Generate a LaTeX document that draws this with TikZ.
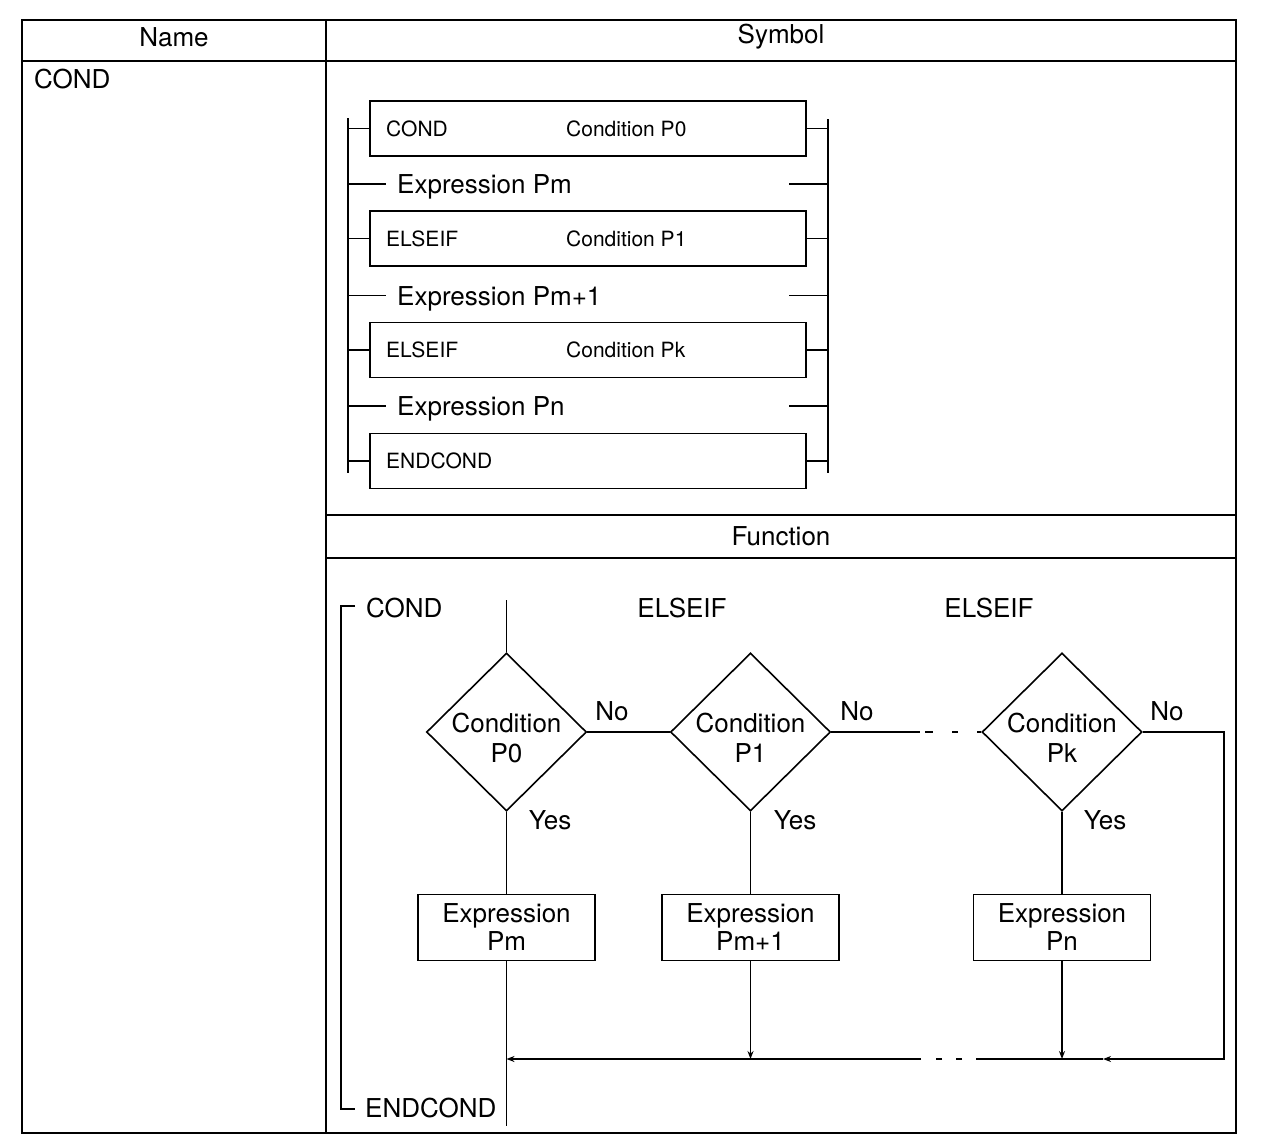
\documentclass[tikz,border=0pt]{standalone}
\usepackage{fontspec}
\setmainfont{TeX Gyre Heros}
\usetikzlibrary{shapes.geometric,arrows.meta}
\begin{document}
\begin{tikzpicture}[x=1pt,y=-1pt,
  tbl/.style={line width=2pt},
  ln/.style={line width=1.6pt},
  big/.style={font=\fontsize{26}{28}\selectfont, inner sep=0pt},
  sml/.style={font=\fontsize{21}{24}\selectfont, inner sep=0pt},
  sbox/.style={draw, line width=1.6pt, minimum width=436pt, minimum height=55pt, inner sep=0pt},
  cond/.style={draw, diamond, line width=1.6pt, minimum width=160pt, minimum height=158pt, inner sep=0pt},
  ebox/.style={draw, line width=1.6pt, minimum width=177pt, minimum height=66pt, inner sep=0pt, align=center, font=\fontsize{26}{28}\selectfont},
  arr/.style={ln, -{Stealth[length=8pt,width=6pt]}},
  dtxt/.style={align=center, font=\fontsize{26}{30}\selectfont, inner sep=0pt}
]
\useasboundingbox (0,0) rectangle (1264,1148);
\fill[white] (0,0) rectangle (1264,1148);

% table
\draw[tbl] (22,20) rectangle (1236,1133);
\draw[tbl] (22,61) -- (1236,61);
\draw[tbl] (326,20) -- (326,1133);
\draw[tbl] (326,515) -- (1236,515);
\draw[tbl] (326,558) -- (1236,558);
\node[big] (hname) at (174,37) {Name};
\node[big] (hsym) at (781,37) {Symbol};
\node[big] (hfun) at (781,536) {Function};
\node[big,anchor=base west] (nm) at (34,88.5) {COND};

% symbol section
\coordinate (lrT) at (348,118); \coordinate (lrB) at (348,473);
\coordinate (rrT) at (828,119); \coordinate (rrB) at (828,473);
\draw[ln] (lrT) -- (lrB);
\draw[ln] (rrT) -- (rrB);
\node[sbox] (b0) at (588,128.5) {};
\node[sbox] (b1) at (588,238.5) {};
\node[sbox] (b2) at (588,350) {};
\node[sbox] (b3) at (588,461) {};
\foreach \b in {b0,b1,b2,b3} {
  \draw[ln] (lrT |- \b.west) -- (\b.west);
  \draw[ln] (\b.east) -- (rrT |- \b.east);
}
\node[sml,anchor=base west] (l0) at (386,136) {COND};
\node[sml,anchor=base west] (c0) at (566,136) {Condition P0};
\node[sml,anchor=base west] (l1) at (386,246) {ELSEIF};
\node[sml,anchor=base west] (c1) at (566,246) {Condition P1};
\node[sml,anchor=base west] (l2) at (386,357.5) {ELSEIF};
\node[sml,anchor=base west] (c2) at (566,357.5) {Condition Pk};
\node[sml,anchor=base west] (l3) at (386,468.5) {ENDCOND};

\node[big,anchor=base west] (e0) at (397,193.5) {Expression Pm};
\node[big,anchor=base west] (e1) at (397,305) {Expression Pm+1};
\node[big,anchor=base west] (e2) at (397,415.5) {Expression Pn};
\coordinate (e0L) at (386,184);   \coordinate (e0R) at (789,184);
\coordinate (e1L) at (386,295.5); \coordinate (e1R) at (789,295.5);
\coordinate (e2L) at (386,406);   \coordinate (e2R) at (789,406);
\foreach \e in {e0,e1,e2} {
  \draw[ln] (lrT |- \e L) -- (\e L);
  \draw[ln] (\e R) -- (rrT |- \e R);
}

% function section
\coordinate (brT) at (355,606); \coordinate (brB) at (355,1109);
\draw[ln] (brT) -- (341,606) -- (341,1109) -- (brB);
\node[big,anchor=base west] (fcond) at (366,617) {COND};
\node[big,anchor=base west] (fend) at (365,1117) {ENDCOND};
\node[big,anchor=base] (else1) at (682,617) {ELSEIF};
\node[big,anchor=base] (else2) at (989,617) {ELSEIF};

\node[cond] (d0) at (506.5,732) {};
\node[cond] (d1) at (750.5,732) {};
\node[cond] (dk) at (1062,732) {};
\node[dtxt] (t0) at (506.5,737.6) {Condition\\P0};
\node[dtxt] (t1) at (750.5,737.6) {Condition\\P1};
\node[dtxt] (tk) at (1062,737.6) {Condition\\Pk};

\node[ebox] (x0) at (506.5,927.5) {Expression\\Pm};
\node[ebox] (x1) at (750.5,927.5) {Expression\\Pm+1};
\node[ebox] (xk) at (1062,927.5) {Expression\\Pn};

\node[big,anchor=base] (no0) at (612,720.5) {No};
\node[big,anchor=base] (no1) at (857,720.5) {No};
\node[big,anchor=base] (nok) at (1167,720.5) {No};
\node[big,anchor=base] (y0) at (550,829.5) {Yes};
\node[big,anchor=base] (y1) at (795,829.5) {Yes};
\node[big,anchor=base] (yk) at (1105,829.5) {Yes};

\coordinate (entry) at (506.5,600);
\draw[ln] (entry) -- (d0.north);
\draw[ln] (d0.east) -- (d1.west);
\coordinate (dsA) at (920,732);
\draw[ln] (d1.east) -- (dsA);
\draw[ln, dash pattern=on 0pt off 5pt on 8pt off 19pt on 6pt off 19pt on 10pt] (dsA) -- (dk.west);

\draw[ln] (d0.south) -- (x0.north);
\draw[ln] (d1.south) -- (x1.north);
\draw[ln] (dk.south) -- (xk.north);

\coordinate (rt) at (1224,732);
\coordinate (rb) at (1224,1059);
\coordinate (mid) at (1103,1059);
\coordinate (gR) at (976,1059);
\coordinate (gL) at (921,1059);
\coordinate (join) at (506.5,1059);
\coordinate (exit) at (506.5,1126);
\draw[arr] (dk.east) -- (rt) -- (rb) -- (mid);
\draw[ln] (mid) -- (gR);
\draw[ln, dash pattern=on 0pt off 14pt on 6pt off 14pt on 6pt off 14pt] (gR) -- (gL);
\draw[arr] (gL) -- (join);
\draw[arr] (x1.south) -- (x1.south |- join);
\draw[arr] (xk.south) -- (xk.south |- join);
\draw[ln] (x0.south) -- (exit);
\end{tikzpicture}
\end{document}
